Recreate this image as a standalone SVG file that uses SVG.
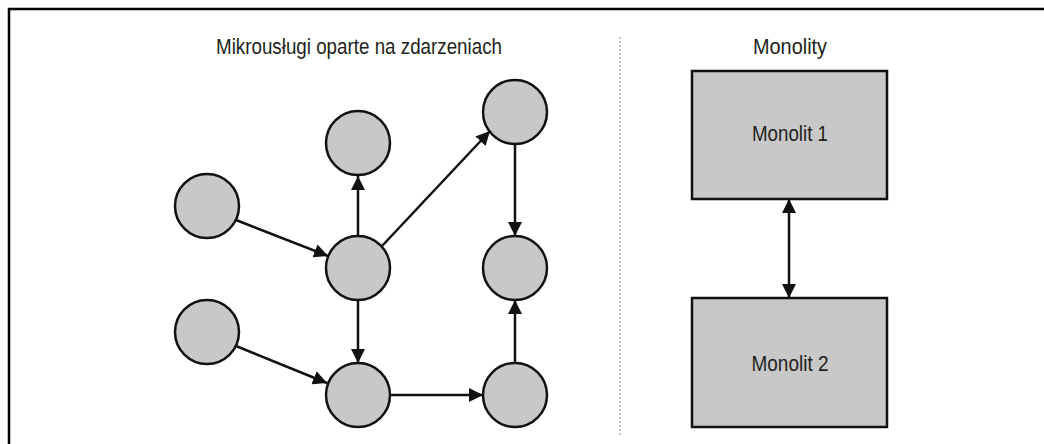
<svg xmlns="http://www.w3.org/2000/svg" width="1044" height="444" viewBox="0 0 1044 444">
<style>
.n{fill:#c8c8c8;stroke:#111;stroke-width:2.5}
.t{font-family:"Liberation Sans",Arial,sans-serif;fill:#231f20;text-anchor:middle;font-size:22px}
.c{stroke:#111;stroke-width:2.5;fill:none}
</style>
<defs>
<marker id="ah" markerUnits="userSpaceOnUse" markerWidth="14" markerHeight="14" viewBox="0 0 14 14" refX="14" refY="7" orient="auto-start-reverse">
<path d="M0,0 L14,7 L0,14 Z" fill="#111"/>
</marker>
</defs>
<rect width="1044" height="444" fill="#fff"/>
<path d="M9,444 V9 H1044" stroke="#000" stroke-width="2.5" fill="none"/>
<line x1="620" y1="37" x2="620" y2="437" stroke="#999" stroke-width="1.2" stroke-dasharray="2 2"/>
<text class="t" x="359" y="54" textLength="286" lengthAdjust="spacingAndGlyphs">Mikrousługi oparte na zdarzeniach</text>
<text class="t" x="790" y="54" textLength="74" lengthAdjust="spacingAndGlyphs">Monolity</text>
<g id="connectors">
<line class="c" x1="236" y1="220" x2="328" y2="256" marker-end="url(#ah)"/>
<line class="c" x1="358" y1="236" x2="358" y2="176" marker-end="url(#ah)"/>
<line class="c" x1="382" y1="246" x2="490" y2="131" marker-end="url(#ah)"/>
<line class="c" x1="515" y1="144" x2="515" y2="236" marker-end="url(#ah)"/>
<line class="c" x1="358" y1="300" x2="358" y2="363" marker-end="url(#ah)"/>
<line class="c" x1="236" y1="346" x2="327" y2="383" marker-end="url(#ah)"/>
<line class="c" x1="390" y1="395" x2="483" y2="395" marker-end="url(#ah)"/>
<line class="c" x1="515" y1="363" x2="515" y2="300" marker-end="url(#ah)"/>
<line class="c" x1="789" y1="199" x2="789" y2="298" marker-start="url(#ah)" marker-end="url(#ah)"/>
</g>
<g id="n1"><circle class="n" cx="207" cy="206" r="32"/></g>
<g id="n2"><circle class="n" cx="207" cy="332" r="32"/></g>
<g id="n3"><circle class="n" cx="358" cy="143" r="32"/></g>
<g id="n4"><circle class="n" cx="358" cy="268" r="32"/></g>
<g id="n5"><circle class="n" cx="358" cy="395" r="32"/></g>
<g id="n6"><circle class="n" cx="515" cy="112" r="32"/></g>
<g id="n7"><circle class="n" cx="515" cy="268" r="32"/></g>
<g id="n8"><circle class="n" cx="515" cy="395" r="32"/></g>
<g id="m1"><rect class="n" x="692" y="71" width="195" height="128"/><text class="t" x="790" y="141" textLength="76" lengthAdjust="spacingAndGlyphs">Monolit 1</text></g>
<g id="m2"><rect class="n" x="692" y="298" width="195" height="129"/><text class="t" x="790" y="371" textLength="77" lengthAdjust="spacingAndGlyphs">Monolit 2</text></g>
</svg>
